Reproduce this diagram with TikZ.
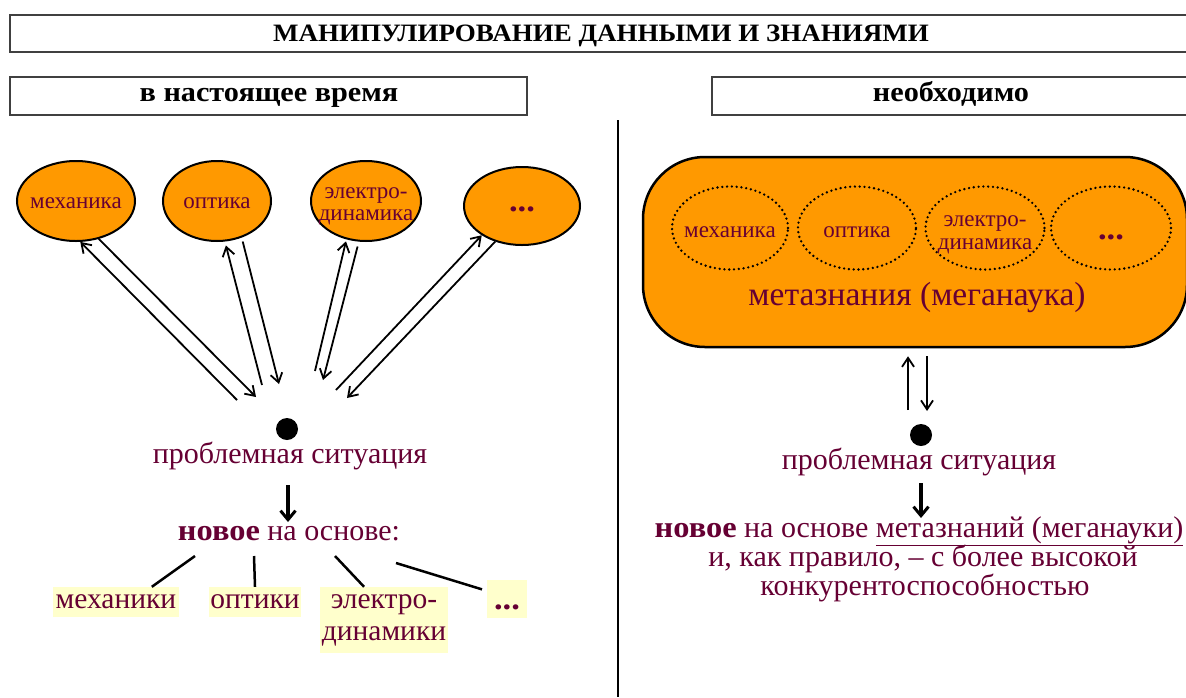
\documentclass[tikz,border=0pt]{standalone}
\usepackage{fontspec}
\setmainfont{Liberation Serif}[BoldFeatures={FakeStretch=1.08}]
\usetikzlibrary{shapes.geometric,arrows.meta,calc}
\definecolor{txt}{RGB}{102,0,51}
\definecolor{orng}{RGB}{255,153,0}
\definecolor{pale}{RGB}{255,255,204}
\begin{document}
\begin{tikzpicture}[x=1pt,y=-1pt,
  every node/.style={text=txt},
  boxline/.style={draw=black!75, line width=1.5pt},
  headtext/.style={text=black, anchor=base, font=\fontsize{28}{30}\selectfont\bfseries},
  sci/.style={ellipse, draw, line width=2pt, fill=orng, inner sep=0pt},
  dotsci/.style={ellipse, draw, line width=2.6pt, dash pattern=on 0pt off 4.8pt,
    line cap=round, inner sep=0pt},
  sciname/.style={inner sep=0pt, align=center, font=\fontsize{23}{22}\selectfont},
  dots/.style={font=\fontsize{32}{32}\selectfont\bfseries, text depth=0pt},
  link/.style={line width=1.8pt, -{Straight Barb[length=9pt,width=12pt]}},
  bigarrow/.style={line width=3.5pt, -{Straight Barb[length=9pt,width=15pt,line width=3pt]}},
  branch/.style={line width=2.5pt},
  lbl/.style={fill=pale, inner sep=0pt, align=center, font=\fontsize{29.5}{32}\selectfont},
  hub/.style={circle, fill=black, minimum size=22pt, inner sep=0pt},
  body/.style={anchor=base, font=\fontsize{30}{30}\selectfont},
]
\useasboundingbox (0,0) rectangle (1186,697);

% headings
\draw[boxline] (10,15) rectangle (1200,52);
\node[headtext, font=\fontsize{25}{27}\selectfont\bfseries] (title) at (601,41.5)
  {МАНИПУЛИРОВАНИЕ ДАННЫМИ И ЗНАНИЯМИ};
\draw[boxline] (10,77) rectangle (527,115);
\node[headtext] (now) at (269,101.5) {в настоящее время};
\draw[boxline] (712,77) rectangle (1200,115);
\node[headtext] (need) at (951,101.5) {необходимо};

% divider
\draw[line width=2pt] (618,120) -- (618,697);

% ---- left half: separate sciences ----
\node[sci, minimum width=118pt, minimum height=80pt] (m1) at (76,201) {};
\node[sci, minimum width=108pt, minimum height=80pt] (o1) at (217,201) {};
\node[sci, minimum width=110pt, minimum height=80pt] (e1) at (366,201) {};
\node[sci, dots, minimum width=116pt, minimum height=78pt, text height=10pt] (d1) at (522,206) {...};
\node[sciname] (m1t) at (76,203) {механика};
\node[sciname] (o1t) at (217,203) {оптика};
\node[sciname] (e1t) at (366,206) {электро-\\динамика};

\node[hub] (p1) at (287,429) {};
\node[body] (ps1) at (290,463) {проблемная ситуация};

\coordinate (a1) at (237,400); \coordinate (b1) at (256,397);
\coordinate (a2) at (262,385); \coordinate (b2) at (279,384);
\coordinate (a3) at (315,371); \coordinate (b3) at (323,380);
\coordinate (a4) at (336,390); \coordinate (b4) at (347,398);

\draw[link] (a1) -- (m1.-84);
\draw[link] (m1.-59) -- (b1);
\draw[link, shorten >=4pt] (a2) -- (o1.-79);
\draw[link, shorten <=4pt] (o1.-56) -- (b2);
\draw[link, shorten >=2pt] (a3) -- (e1.-117);
\draw[link, shorten <=5pt] (e1.-100) -- (b3);
\draw[link] (a4) -- (d1.-144);
\draw[link] (d1.-127) -- (b4);

\node[body] (n1) at (289,540) {\textbf{новое} на основе:};
\draw[bigarrow] ($(ps1.base)+(-2,22)$) -- ($(n1.base)+(-1,-18)$);

\node[lbl, minimum width=126pt, minimum height=30pt] (l1) at (116,602) {механики};
\node[lbl, minimum width=92pt, minimum height=30pt] (l2) at (255,602) {оптики};
\node[lbl, minimum width=128pt, minimum height=66pt] (l3) at (384,620) {электро-\\динамики};
\node[lbl, dots, minimum width=40pt, minimum height=38pt, text height=20pt] (l4) at (507,599) {...};

\coordinate (c1) at (195,556); \coordinate (c2) at (254,556);
\coordinate (c3) at (335,556); \coordinate (c4) at (396,563);
\draw[branch] (c1) -- (l1.23);
\draw[branch] (c2) -- (l2.north);
\draw[branch] (c3) -- (l3.121);
\draw[branch, shorten >=5pt] (c4) -- (l4.158);

% ---- right half: metaknowledge ----
\node[draw, line width=2.5pt, fill=orng, rounded corners=62pt,
      minimum width=544pt, minimum height=190pt] (meta) at (915,252) {};
\node[dotsci, minimum width=116pt, minimum height=83pt] (m2) at (730,228) {};
\node[dotsci, minimum width=118pt, minimum height=83pt] (o2) at (857,228) {};
\node[dotsci, minimum width=119pt, minimum height=83pt] (e2) at (985,228) {};
\node[dotsci, dots, minimum width=120pt, minimum height=83pt, text height=22pt] (d2) at (1111,228) {...};
\node[sciname] (m2t) at (730,232) {механика};
\node[sciname] (o2t) at (857,232) {оптика};
\node[sciname, font=\fontsize{23}{23}\selectfont] (e2t) at (985,235) {электро-\\динамика};
\node[body, font=\fontsize{33.5}{34}\selectfont] (mt) at (917,305) {метазнания (меганаука)};

\node[hub] (p2) at (921,435) {};
\node[body] (ps2) at (919,469) {проблемная ситуация};

\coordinate (ru) at (908,410); \coordinate (rd) at (927,411);
\draw[link, shorten >=8pt] (ru) -- (ru |- meta.south);
\draw[link, shorten <=8pt] (rd |- meta.south) -- (rd);

\node[body] (n2a) at (919,537) {\textbf{новое} на основе \underline{метазнаний (меганауки)}};
\node[body] (n2b) at (923,566) {и, как правило, – с более высокой};
\node[body] (n2c) at (925,595) {конкурентоспособностью};
\draw[bigarrow] ($(ps2.base)+(2,14)$) -- ($(n2a.base)+(2,-19)$);
\end{tikzpicture}
\end{document}
